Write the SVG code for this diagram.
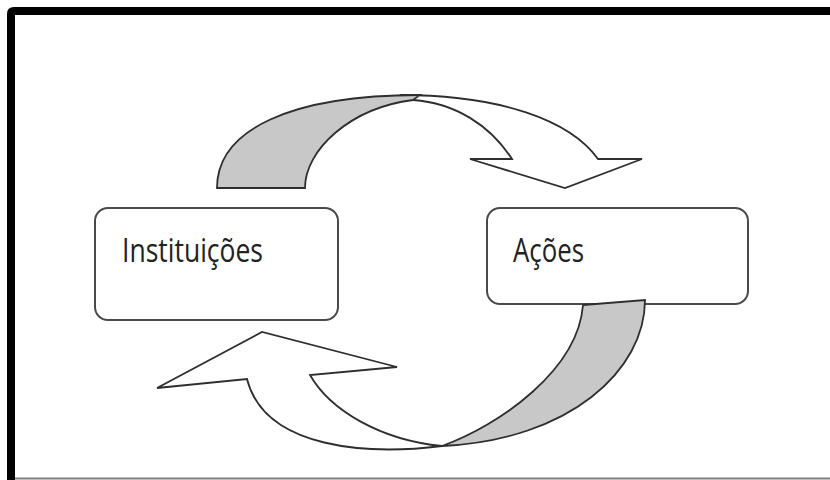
<svg xmlns="http://www.w3.org/2000/svg" width="830" height="480" viewBox="0 0 830 480">
  <style>
    .box { fill: #ffffff; stroke: #4a4a4a; stroke-width: 2; }
    .label { font-family: "Open Sans", "Noto Sans", sans-serif; font-size: 32px; fill: #222222; }
    .ribbon { stroke: #2e2e2e; stroke-width: 1.8; stroke-linejoin: miter; }
    .under { fill: #c8c8c8; }
    .over { fill: #ffffff; }
  </style>

  <!-- page background and frame -->
  <rect x="0" y="0" width="830" height="480" fill="#ffffff"/>
  <path d="M830,11 L14,11 Q11,11 11,14 L11,480" fill="none" stroke="#000000" stroke-width="8"/>
  <line x1="15" y1="478.5" x2="830" y2="478.5" stroke="#808080" stroke-width="2"/>

  <!-- nodes -->
  <g id="node-instituicoes">
    <rect class="box" x="95" y="208" width="243" height="112" rx="13" ry="13"/>
    <text class="label" x="122" y="262" textLength="141" lengthAdjust="spacingAndGlyphs">Instituições</text>
  </g>
  <g id="node-acoes">
    <rect class="box" x="487" y="208" width="261" height="96" rx="13" ry="13"/>
    <text class="label" x="513" y="262" textLength="71" lengthAdjust="spacingAndGlyphs">Ações</text>
  </g>

  <!-- connectors: twisted ribbon arrows -->
  <g id="connectors">
    <!-- top arrow: Instituições to Ações -->
    <g id="arrow-top">
      <path class="ribbon over" d="M400,95 C500,95 570,120 598,159 L642,159 L565,188 L470,159 L512,159 C490,125 455,103 413,100 Z"/>
      <path class="ribbon under" d="M217,188 C217,130 290,95 420,95 L413,100 C350,108 305,150 305,188 Z"/>
    </g>
    <!-- bottom arrow: Ações to Instituições -->
    <g id="arrow-bottom">
      <path class="ribbon over" d="M442,446 C370,455 265,450 247,379 L157,388 L262,332 L397,367 L310,375 C330,410 380,440 442,446 Z"/>
      <path class="ribbon under" d="M583,305 L645,300 C645,370 570,440 442,446 C500,425 578,370 583,305 Z"/>
    </g>
  </g>
</svg>
